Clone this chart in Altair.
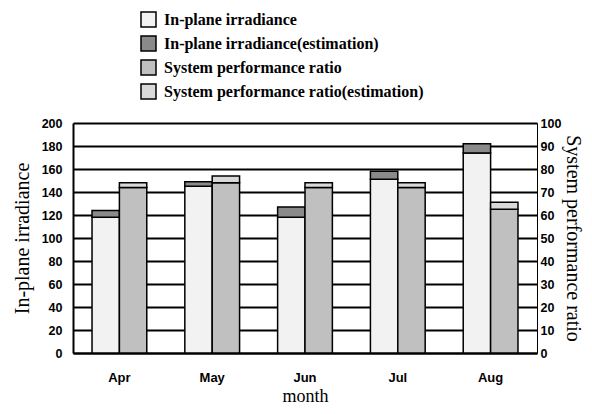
import altair as alt
import pandas as pd

months = ["Apr", "May", "Jun", "Jul", "Aug"]
irr = [118, 145, 118, 151, 174]
irr_est = [6, 4, 9, 7, 8]
pr = [72, 74, 72, 72, 62.5]
pr_est = [2, 3, 2, 2, 3]

series = [
    "In-plane irradiance",
    "In-plane irradiance(estimation)",
    "System performance ratio",
    "System performance ratio(estimation)",
]
fills = ["#f2f2f2", "#8a8a8a", "#c0c0c0", "#d9d9d9"]

rows_irr = []
rows_pr = []
for i, m in enumerate(months):
    rows_irr.append(dict(month=m, grp="irr", series=series[0], ord=0, value=irr[i]))
    rows_irr.append(dict(month=m, grp="irr", series=series[1], ord=1, value=irr_est[i]))
    rows_pr.append(dict(month=m, grp="pr", series=series[2], ord=0, value=pr[i]))
    rows_pr.append(dict(month=m, grp="pr", series=series[3], ord=1, value=pr_est[i]))
df_irr = pd.DataFrame(rows_irr)
df_pr = pd.DataFrame(rows_pr)

SANS = "Liberation Sans"
SERIF = "Liberation Serif"

x_enc = alt.X(
    "month:N", sort=months,
    scale=alt.Scale(paddingInner=0.41, paddingOuter=0.205),
    axis=alt.Axis(title="month", labelAngle=0, ticks=False, labelPadding=18,
                  labelFont=SANS, labelFontWeight="bold", labelFontSize=13, labelColor="black",
                  titleFont=SERIF, titleFontWeight="normal", titleFontSize=18, titleColor="black",
                  titleBaseline="bottom", titleY=52,
                  domainColor="black", domainWidth=2, grid=False),
)
xoff = alt.XOffset("grp:N", scale=alt.Scale(domain=["irr", "pr"], paddingInner=0, paddingOuter=0))
fill_enc = alt.Fill(
    "series:N",
    scale=alt.Scale(domain=series, range=fills),
    legend=alt.Legend(
        title=None, orient="none", legendX=67, legendY=-112, direction="vertical",
        symbolType="square", symbolSize=225, symbolStrokeColor="black", symbolStrokeWidth=1.5,
        labelFont=SERIF, labelFontWeight="bold", labelFontSize=16, labelColor="black",
        labelOffset=7, rowPadding=3, labelLimit=400,
    ),
)

irr_layer = alt.Chart(df_irr).mark_bar(stroke="black", strokeWidth=1.5).encode(
    x=x_enc,
    xOffset=xoff,
    y=alt.Y("value:Q", stack="zero",
            scale=alt.Scale(domain=[0, 200], nice=False),
            axis=alt.Axis(orient="left", title="In-plane irradiance", values=list(range(0, 201, 20)),
                          ticks=False, labelPadding=11, grid=True, gridColor="black", gridWidth=2,
                          gridOpacity=1, domainColor="black", domainWidth=2,
                          labelFont=SANS, labelFontWeight="bold", labelFontSize=12.5, labelColor="black",
                          titleFont=SERIF, titleFontWeight="normal", titleFontSize=20, titleColor="black",
                          titlePadding=9)),
    fill=fill_enc,
    order=alt.Order("ord:Q"),
)

pr_layer = alt.Chart(df_pr).mark_bar(stroke="black", strokeWidth=1.5).encode(
    x=x_enc,
    xOffset=xoff,
    y=alt.Y("value:Q", stack="zero",
            scale=alt.Scale(domain=[0, 100], nice=False),
            axis=alt.Axis(orient="right", title="System performance ratio", values=list(range(0, 101, 10)),
                          ticks=False, labelPadding=3, grid=False, domainColor="black", domainWidth=1,
                          labelFont=SANS, labelFontWeight="bold", labelFontSize=12.5, labelColor="black",
                          titleFont=SERIF, titleFontWeight="normal", titleFontSize=20, titleColor="black",
                          titlePadding=2)),
    fill=fill_enc,
    order=alt.Order("ord:Q"),
)

chart = (
    alt.layer(irr_layer, pr_layer)
    .resolve_scale(y="independent")
    .properties(
        width=464, height=230,
        autosize=alt.AutoSizeParams(type="none"),
        padding={"left": 65, "top": 115, "right": 47, "bottom": 53},
        background="white",
    )
    .configure_view(stroke=None)
)

chart.save("out.html", embed_options={"renderer": "svg", "actions": False})
